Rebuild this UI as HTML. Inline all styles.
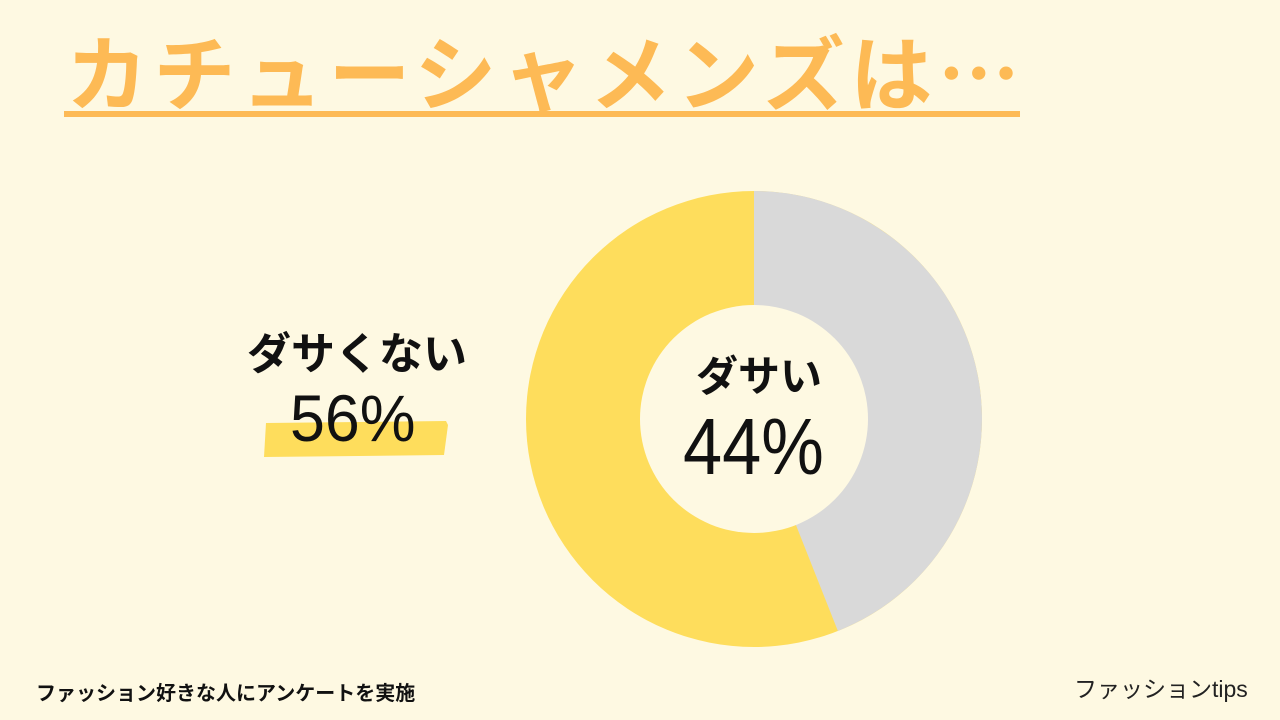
<!DOCTYPE html>
<html><head><meta charset="utf-8"><style>
body{margin:0;width:1280px;height:720px;background:#FEF9E2;overflow:hidden;position:relative;font-family:"Liberation Sans","Noto Sans CJK JP",sans-serif;}
.t{position:absolute;white-space:nowrap;line-height:1;}
</style></head><body>
<div class="t" style="left:66px;top:24px;font-size:82px;font-weight:bold;color:#FDBA55;font-family:'Noto Sans CJK JP',sans-serif;line-height:1.1;letter-spacing:5.5px;">カチューシャメンズは…</div>
<div style="position:absolute;left:64px;top:111px;width:956px;height:6px;background:#FDBA55;"></div>
<svg style="position:absolute;left:0;top:0" width="1280" height="720">
<circle cx="754" cy="419" r="228" fill="#FEDD5C"/>
<path d="M754 419 L754 191 A228 228 0 0 1 837.9 631 Z" fill="#D9D9D9"/>
<circle cx="754" cy="419" r="114" fill="#FEF9E2"/>
<polygon points="266,423 446,421 448,425 444,455 264,457" fill="#FEDD5C"/>
</svg>
<div class="t" style="left:247px;top:333px;font-size:44px;font-weight:bold;color:#111;">ダサくない</div>
<div class="t" style="left:290px;top:385px;font-size:66px;color:#111;transform:scaleX(0.95);transform-origin:left;">56%</div>
<div class="t" style="left:696px;top:356px;font-size:42px;font-weight:bold;color:#111;">ダサい</div>
<div class="t" style="left:683px;top:407px;font-size:80px;color:#111;transform:scaleX(0.88);transform-origin:left;">44%</div>
<div class="t" style="left:36px;top:684px;font-size:20px;font-weight:bold;color:#111;">ファッション好きな人にアンケートを実施</div>
<div class="t" style="left:1074px;top:678px;font-size:23px;color:#222;">ファッションtips</div>
</body></html>
